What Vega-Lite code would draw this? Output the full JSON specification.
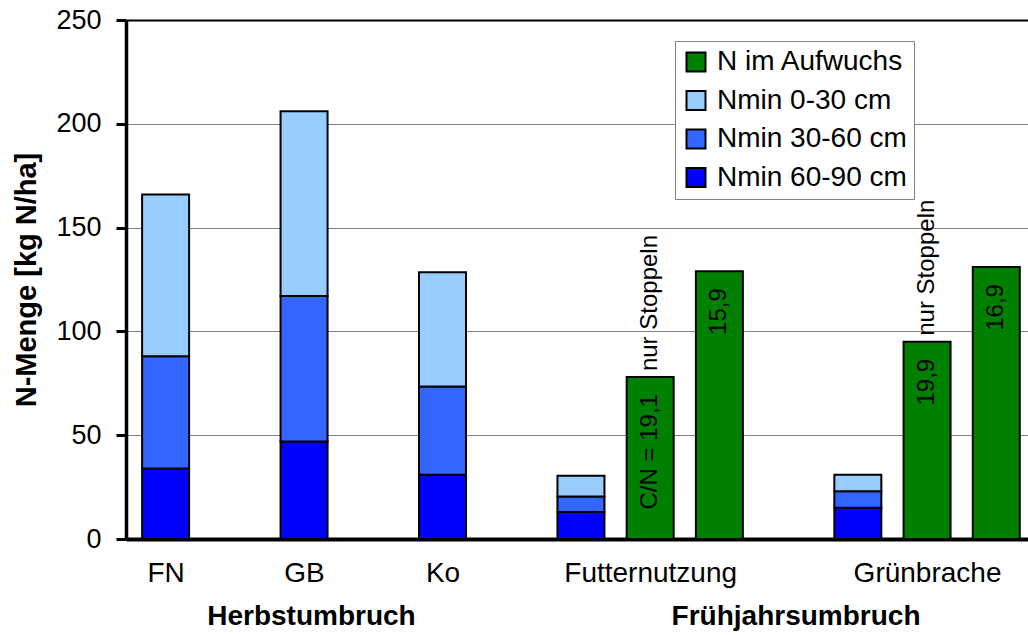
{
  "$schema": "https://vega.github.io/schema/vega-lite/v6.json",
  "width": 902,
  "height": 519,
  "autosize": {"type": "none"},
  "padding": {"left": 126, "top": 20, "right": 0, "bottom": 96},
  "background": "white",
  "config": {"view": {"stroke": null}, "font": "Liberation Sans"},
  "data": {"values": [
    {"slot": 0, "category": "FN", "layer": "Nmin 60-90 cm", "value": 34},
    {"slot": 0, "category": "FN", "layer": "Nmin 30-60 cm", "value": 54},
    {"slot": 0, "category": "FN", "layer": "Nmin 0-30 cm", "value": 78},
    {"slot": 2, "category": "GB", "layer": "Nmin 60-90 cm", "value": 47},
    {"slot": 2, "category": "GB", "layer": "Nmin 30-60 cm", "value": 70},
    {"slot": 2, "category": "GB", "layer": "Nmin 0-30 cm", "value": 89},
    {"slot": 4, "category": "Ko", "layer": "Nmin 60-90 cm", "value": 31},
    {"slot": 4, "category": "Ko", "layer": "Nmin 30-60 cm", "value": 42.5},
    {"slot": 4, "category": "Ko", "layer": "Nmin 0-30 cm", "value": 55},
    {"slot": 6, "category": "Futternutzung", "layer": "Nmin 60-90 cm", "value": 13},
    {"slot": 6, "category": "Futternutzung", "layer": "Nmin 30-60 cm", "value": 7.5},
    {"slot": 6, "category": "Futternutzung", "layer": "Nmin 0-30 cm", "value": 10},
    {"slot": 7, "category": "Futternutzung", "layer": "N im Aufwuchs", "value": 78, "inner": "C/N = 19,1", "above": "nur Stoppeln"},
    {"slot": 8, "category": "Futternutzung", "layer": "N im Aufwuchs", "value": 129, "inner": "15,9"},
    {"slot": 10, "category": "Grünbrache", "layer": "Nmin 60-90 cm", "value": 15},
    {"slot": 10, "category": "Grünbrache", "layer": "Nmin 30-60 cm", "value": 8},
    {"slot": 10, "category": "Grünbrache", "layer": "Nmin 0-30 cm", "value": 8},
    {"slot": 11, "category": "Grünbrache", "layer": "N im Aufwuchs", "value": 95, "inner": "19,9", "above": "nur Stoppeln"},
    {"slot": 12, "category": "Grünbrache", "layer": "N im Aufwuchs", "value": 131, "inner": "16,9"}
  ]},
  "encoding": {
    "x": {
      "field": "slot", "type": "quantitative",
      "scale": {"domain": [-0.5, 12.386], "nice": false, "zero": false},
      "axis": {
        "title": null,
        "values": [0, 2, 2.1, 4, 7, 9.1, 11],
        "labelExpr": "datum.value == 0 ? 'FN' : datum.value == 2 ? 'GB' : datum.value == 4 ? 'Ko' : datum.value == 7 ? 'Futternutzung' : datum.value == 11 ? 'Grünbrache' : datum.value == 2.1 ? 'Herbstumbruch' : 'Frühjahrsumbruch'",
        "ticks": false,
        "tickSize": 0,
        "grid": false,
        "domainColor": "black",
        "domainWidth": 4,
        "labelFont": "Liberation Sans",
        "labelFontSize": 28,
        "labelColor": "black",
        "labelLimit": 500,
        "labelFontWeight": {"condition": {"test": "datum.value == 2.1 || datum.value == 9.1", "value": "bold"}, "value": "normal"},
        "labelPadding": {"condition": {"test": "datum.value == 2.1 || datum.value == 9.1", "value": 63}, "value": 20},
        "labelOverlap": false,
        "labelFlush": false,
        "labelBound": false
      }
    },
    "y": {
      "field": "value", "type": "quantitative",
      "scale": {"domain": [0, 250], "nice": false},
      "axis": {
        "title": "N-Menge [kg N/ha]",
        "titleFont": "Liberation Sans",
        "titleFontSize": 29,
        "titleFontWeight": "bold",
        "titleColor": "black",
        "titlePadding": 14,
        "values": [0, 50, 100, 150, 200, 250],
        "labelFont": "Liberation Sans",
        "labelFontSize": 27,
        "labelColor": "black",
        "labelPadding": 15,
        "tickSize": 10,
        "tickWidth": 3,
        "tickColor": "black",
        "domainColor": "black",
        "domainWidth": 3.5,
        "grid": true,
        "gridColor": {"condition": {"test": "datum.value == 250", "value": "black"}, "value": "#808080"},
        "gridWidth": {"condition": {"test": "datum.value == 250", "value": 2}, "value": 1}
      }
    }
  },
  "layer": [
    {
      "mark": {"type": "bar", "width": 47, "stroke": "black", "strokeWidth": 2},
      "encoding": {
        "color": {
          "field": "layer", "type": "nominal",
          "scale": {
            "domain": ["N im Aufwuchs", "Nmin 0-30 cm", "Nmin 30-60 cm", "Nmin 60-90 cm"],
            "range": ["#008000", "#99CCFF", "#3366FF", "#0000FF"]
          },
          "legend": {
            "title": null,
            "orient": "none",
            "legendX": 549,
            "legendY": 21,
            "fillColor": "white",
            "strokeColor": "#808080",
            "padding": 7,
            "symbolType": "square",
            "symbolSize": 361,
            "symbolStrokeColor": "black",
            "symbolStrokeWidth": 2,
            "labelFont": "Liberation Sans",
            "labelFontSize": 28,
            "labelColor": "black",
            "labelOffset": 7,
            "rowPadding": 10.5,
            "labelLimit": 400
          }
        },
        "order": {"field": "layer", "sort": "descending"}
      }
    },
    {
      "transform": [{"filter": "datum.inner != null"}],
      "mark": {"type": "text", "angle": 270, "align": "right", "baseline": "middle", "dx": -17, "font": "Liberation Sans", "fontSize": 24, "color": "black"},
      "encoding": {"text": {"field": "inner"}}
    },
    {
      "transform": [{"filter": "datum.above != null"}],
      "mark": {"type": "text", "angle": 270, "align": "left", "baseline": "middle", "dx": 6, "font": "Liberation Sans", "fontSize": 24, "color": "black"},
      "encoding": {"text": {"field": "above"}}
    }
  ]
}
